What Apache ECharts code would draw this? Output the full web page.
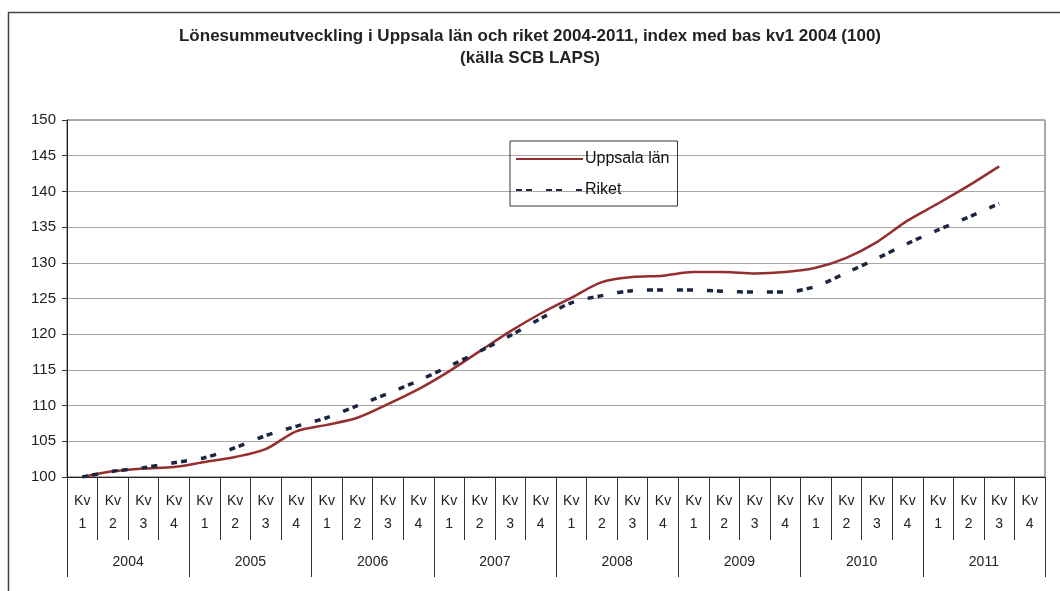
<!DOCTYPE html>
<html>
<head>
<meta charset="utf-8">
<script src="https://cdn.jsdelivr.net/npm/echarts@6/dist/echarts.min.js"></script>
<style>html,body{margin:0;padding:0;background:#fff;}#c{width:1060px;height:591px;}</style>
</head>
<body>
<div id="c"></div>
<script>
var years = ['2004','2005','2006','2007','2008','2009','2010','2011'];
var quarters = [];
years.forEach(function(y){ for (var q=1;q<=4;q++) quarters.push('Kv\n' + q); });
var uppsala = [100, 100.8, 101.2, 101.4, 102.1, 102.8, 103.9, 106.4, 107.3, 108.3, 110.2, 112.3, 114.8, 117.6, 120.4, 122.9, 125.1, 127.3, 128.0, 128.2, 128.7, 128.7, 128.5, 128.7, 129.3, 130.7, 132.9, 135.9, 138.3, 140.8, 143.5, null];
var riket = [100, 100.8, 101.3, 102.0, 102.7, 104.1, 105.8, 107.1, 108.3, 110.0, 111.7, 113.5, 115.5, 117.6, 119.8, 122.2, 124.4, 125.4, 126.1, 126.2, 126.2, 126.0, 125.9, 125.9, 126.7, 128.6, 130.6, 132.7, 134.6, 136.4, 138.3, null];
var titleText = 'Lönesummeutveckling i Uppsala län och riket 2004-2011, index med bas kv1 2004 (100)\n(källa SCB LAPS)';

var FONT = '"Liberation Sans", Arial, sans-serif';
var chart = echarts.init(document.getElementById('c'), null, {renderer:'canvas'});
chart.setOption({
  backgroundColor: '#fff',
  animation: false,
  textStyle: {fontFamily: FONT},
  graphic: [{
    type: 'rect', left: 6, top: 10, silent: true,
    shape: {x: 0, y: 0, width: 1100, height: 700},
    style: {fill: 'none', stroke: '#444', lineWidth: 1.5}
  }],
  title: {
    text: titleText,
    left: 'center', top: 20,
    textStyle: {fontFamily: FONT, fontSize: 17, fontWeight: 'bold', color: '#222', lineHeight: 22}
  },
  legend: {
    orient: 'vertical', left: 510, top: 141,
    borderColor: '#333', borderWidth: 1,
    padding: [10, 8, 8, 5],
    itemWidth: 67, itemHeight: 14, itemGap: 15,
    itemStyle: {opacity: 0},
    textStyle: {fontFamily: FONT, fontSize: 16, color: '#111', padding: [0,0,0,-3]},
    data: ['Uppsala län', 'Riket']
  },
  grid: {left: 67, right: 15, top: 120, bottom: 114, show: true, borderColor: '#555', borderWidth: 1, backgroundColor: 'transparent'},
  xAxis: [{
    type: 'category', data: quarters, boundaryGap: true,
    axisLine: {show: true, lineStyle: {color: '#222', width: 1}},
    axisTick: {show: true, interval: 0, length: 63, lineStyle: {color: '#333'}},
    axisLabel: {interval: 0, margin: 13, fontSize: 14, lineHeight: 23, color: '#222', fontFamily: FONT},
    splitLine: {show: false}
  }, {
    type: 'category', data: years, boundaryGap: true, position: 'bottom',
    axisLine: {show: false},
    axisTick: {show: true, interval: 0, length: 100, lineStyle: {color: '#333'}},
    axisLabel: {interval: 0, margin: 78, fontSize: 14, color: '#222', fontFamily: FONT},
    splitLine: {show: false}
  }],
  yAxis: {
    type: 'value', min: 100, max: 150, interval: 5,
    axisLine: {show: true, lineStyle: {color: '#222', width: 1}},
    axisTick: {show: true, length: 5, lineStyle: {color: '#333'}},
    axisLabel: {fontSize: 15, color: '#222', margin: 11, fontFamily: FONT},
    splitLine: {show: true, lineStyle: {color: '#a8a8a8', width: 1}}
  },
  series: [{
    name: 'Uppsala län', type: 'line', data: uppsala, xAxisIndex: 0,
    symbol: 'none', smooth: 0.3,
    itemStyle: {color: '#952f2f'},
    lineStyle: {color: '#952f2f', width: 2.5}
  }, {
    name: 'Riket', type: 'line', data: riket, xAxisIndex: 0,
    symbol: 'none', smooth: 0.3,
    itemStyle: {color: '#1a2540'},
    lineStyle: {color: '#1a2540', width: 3.5, type: [6, 4, 6, 14]}
  }]
});
</script>
</body>
</html>
